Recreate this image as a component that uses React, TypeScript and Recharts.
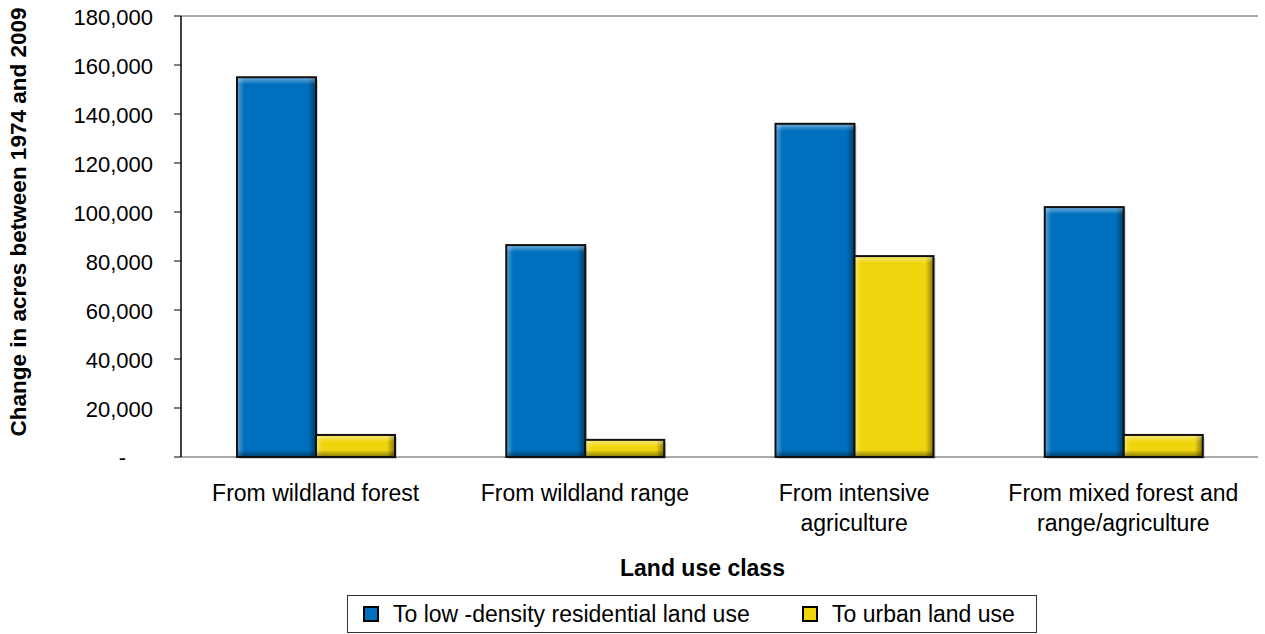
import React from "react";
import { BarChart, Bar, XAxis, YAxis, CartesianGrid, Label } from "recharts";

const categories: string[][] = [
  ["From wildland forest"],
  ["From wildland range"],
  ["From intensive", "agriculture"],
  ["From mixed forest and", "range/agriculture"],
];
const lowDensity = [155000, 86500, 136000, 102000];
const urban = [9000, 7000, 82000, 9000];
const yTicks = [0, 20000, 40000, 60000, 80000, 100000, 120000, 140000, 160000, 180000];
const boundaryTicks = [0, 1, 2, 3, 4];
const seriesNames = ["To low -density residential land use", "To urban land use"];
const seriesColors = ["#0070BE", "#F0D50E"];

const data = categories.map((c, i) => ({
  key: c.join(" "),
  lines: c,
  low: lowDensity[i],
  urban: urban[i],
}));

const FONT = "'Liberation Sans', Arial, sans-serif";

const BevelBar = (props: any) => {
  const { x, y, width, height, fill, index, dataKey } = props;
  if (!height || height <= 0) return null;
  const id = `${dataKey}-${index}`;
  const e = Math.min(7, height / 2);
  return (
    <g>
      <defs>
        <linearGradient id={`l-${id}`} x1="0" y1="0" x2="1" y2="0">
          <stop offset="0" stopColor="#fff" stopOpacity={0.35} />
          <stop offset="1" stopColor="#fff" stopOpacity={0} />
        </linearGradient>
        <linearGradient id={`r-${id}`} x1="0" y1="0" x2="1" y2="0">
          <stop offset="0" stopColor="#000" stopOpacity={0} />
          <stop offset="1" stopColor="#000" stopOpacity={0.45} />
        </linearGradient>
        <linearGradient id={`t-${id}`} x1="0" y1="0" x2="0" y2="1">
          <stop offset="0" stopColor="#fff" stopOpacity={0.45} />
          <stop offset="1" stopColor="#fff" stopOpacity={0} />
        </linearGradient>
        <linearGradient id={`b-${id}`} x1="0" y1="0" x2="0" y2="1">
          <stop offset="0" stopColor="#000" stopOpacity={0} />
          <stop offset="1" stopColor="#000" stopOpacity={0.45} />
        </linearGradient>
      </defs>
      <rect x={x + 2} y={y + 2} width={width} height={height} fill="#000" fillOpacity={0.18} />
      <rect x={x} y={y} width={width} height={height} fill={fill} />
      <rect x={x} y={y} width={7} height={height} fill={`url(#l-${id})`} />
      <rect x={x + width - 8} y={y} width={8} height={height} fill={`url(#r-${id})`} />
      <rect x={x} y={y} width={width} height={e} fill={`url(#t-${id})`} />
      <rect x={x} y={y + height - e} width={width} height={e} fill={`url(#b-${id})`} />
      <rect x={x} y={y} width={width} height={height} fill="none" stroke="#111" strokeWidth={2} />
    </g>
  );
};

const YTick = (props: any) => {
  const { x, y, payload } = props;
  const v = payload.value as number;
  if (v === 0) {
    return (
      <text x={x - 27} y={y} dy={8} textAnchor="end" fontFamily={FONT} fontSize={22} fill="#000">
        -
      </text>
    );
  }
  return (
    <text x={x} y={y} dy={9} textAnchor="end" fontFamily={FONT} fontSize={22} fill="#000">
      {v.toLocaleString("en-US")}
    </text>
  );
};

const XTick = (props: any) => {
  const { x, y, index } = props;
  const lines = data[index]?.lines ?? [];
  return (
    <text x={x} y={y} textAnchor="middle" fontFamily={FONT} fontSize={23} fill="#000">
      {lines.map((l: string, i: number) => (
        <tspan key={i} x={x} dy={i === 0 ? 44 : 30}>
          {l}
        </tspan>
      ))}
    </text>
  );
};

export default function App() {
  return (
    <div style={{ position: "absolute", left: 0, top: 0, width: 1265, height: 634, background: "#fff" }}>
      <BarChart
        width={1265}
        height={634}
        data={data}
        margin={{ top: 16, right: 7, left: 0, bottom: 0 }}
        barCategoryGap={56}
        barGap={0}
      >
        <CartesianGrid vertical={false} stroke="#555" strokeWidth={1} />
        <XAxis
          xAxisId="b"
          type="number"
          domain={[0, 4]}
          ticks={boundaryTicks}
          height={0}
          tick={false}
          tickSize={8}
          tickLine={{ stroke: "#000" }}
          axisLine={{ stroke: "#000", strokeWidth: 1.5 }}
          allowDataOverflow
        />
        <XAxis
          xAxisId="cat"
          dataKey="key"
          height={177}
          tickLine={false}
          axisLine={false}
          tickSize={0}
          tickMargin={0}
          interval={0}
          tick={<XTick />}
        >
          <Label
            value="Land use class"
            position="insideBottom"
            offset={58}
            dx={-17}
            style={{ fontFamily: FONT, fontSize: 23, fontWeight: "bold", fill: "#000" }}
          />
        </XAxis>
        <YAxis
          yAxisId="l"
          width={181}
          domain={[0, 180000]}
          ticks={yTicks}
          interval={0}
          tickSize={7}
          tickMargin={21}
          tickLine={{ stroke: "#000" }}
          axisLine={{ stroke: "#000", strokeWidth: 1.5 }}
          tick={<YTick />}
        >
          <Label
            content={() => (
              <text
                x={18}
                y={222}
                transform="rotate(-90, 18, 222)"
                textAnchor="middle"
                dominantBaseline="central"
                fontFamily={FONT}
                fontSize={22.5}
                fontWeight="bold"
                fill="#000"
              >
                Change in acres between 1974 and 2009
              </text>
            )}
          />
        </YAxis>
        <YAxis
          yAxisId="r"
          orientation="right"
          width={0}
          domain={[0, 180000]}
          ticks={yTicks}
          tick={false}
          tickLine={false}
          axisLine={{ stroke: "#000", strokeWidth: 1.5 }}
        />
        <Bar
          xAxisId="cat"
          yAxisId="l"
          dataKey="low"
          name={seriesNames[0]}
          fill={seriesColors[0]}
          shape={<BevelBar />}
          isAnimationActive={false}
        />
        <Bar
          xAxisId="cat"
          yAxisId="l"
          dataKey="urban"
          name={seriesNames[1]}
          fill={seriesColors[1]}
          shape={<BevelBar />}
          isAnimationActive={false}
        />
      </BarChart>
      <div
        style={{
          position: "absolute",
          left: 347,
          top: 595,
          width: 688,
          height: 36,
          border: "1px solid #333",
          fontFamily: FONT,
          fontSize: 23,
          color: "#000",
        }}
      >
        {seriesNames.map((n, i) => (
          <div
            key={n}
            style={{
              position: "absolute",
              left: i === 0 ? 15 : 454,
              top: 0,
              height: 36,
              display: "flex",
              alignItems: "center",
              whiteSpace: "nowrap",
            }}
          >
            <span
              style={{
                display: "inline-block",
                width: 12,
                height: 12,
                background: seriesColors[i],
                border: "2px solid #000",
                marginRight: 14,
              }}
            />
            <span>{n}</span>
          </div>
        ))}
      </div>
    </div>
  );
}
